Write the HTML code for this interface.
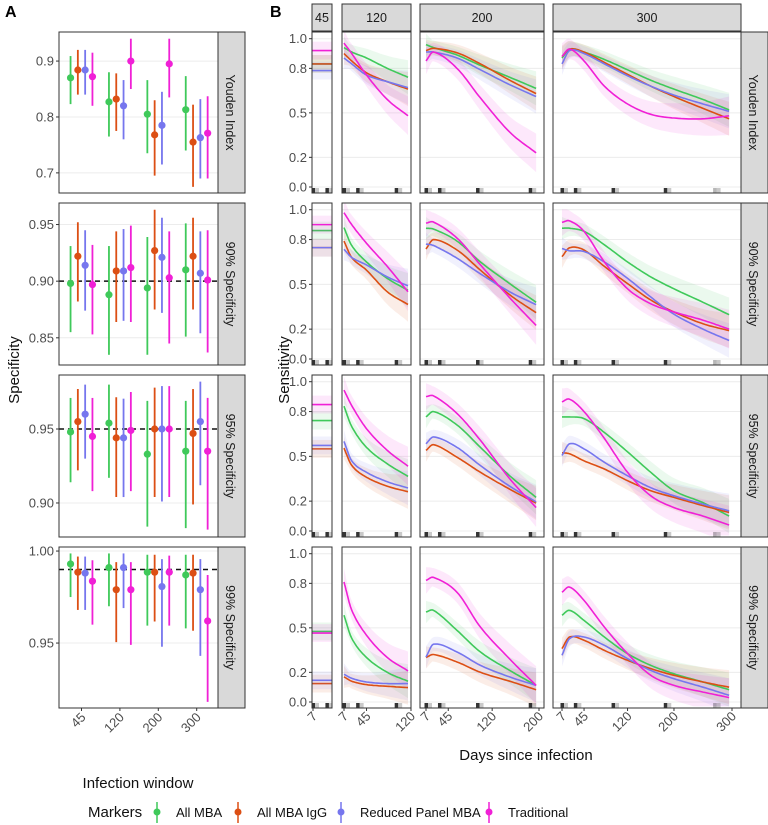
<!DOCTYPE html>
<html><head><meta charset="utf-8"><style>
body{margin:0;background:#fff}
svg{display:block;font-family:"Liberation Sans",Arial,sans-serif}
</style></head><body>
<svg id="fig" width="768" height="825" viewBox="0 0 768 825">
<text x="5" y="17" font-size="16" font-weight="bold">A</text>
<text x="270" y="17" font-size="16" font-weight="bold">B</text>
<text transform="translate(19,370) rotate(-90)" text-anchor="middle" font-size="15" fill="#111">Specificity</text>
<text transform="translate(289,370) rotate(-90)" text-anchor="middle" font-size="15" fill="#111">Sensitivity</text>
<text x="138" y="788" text-anchor="middle" font-size="15" fill="#111">Infection window</text>
<text x="526" y="760" text-anchor="middle" font-size="15" fill="#111">Days since infection</text>
<g id="legend"><text x="88" y="817" font-size="15" fill="#111">Markers</text></g>
</svg>
<script>
const NS='http://www.w3.org/2000/svg';
const svg=document.getElementById('fig');
function el(tag,attrs,parent){const e=document.createElementNS(NS,tag);for(const k in attrs)e.setAttribute(k,attrs[k]);(parent||svg).appendChild(e);return e;}

const seriesNames=['All MBA','All MBA IgG','Reduced Panel MBA','Traditional'];
const seriesColors=['#3fc95a','#dc4f14','#7676ee','#f020d6'];
const windows=['45','120','200','300'];
const rowNames=['Youden Index','90% Specificity','95% Specificity','99% Specificity'];

// Panel A data: [window][series]
const youdenEst=[[0.870,0.884,0.884,0.872],[0.827,0.832,0.820,0.900],[0.805,0.768,0.785,0.895],[0.813,0.755,0.763,0.771]];
const youdenLo=[[0.823,0.840,0.840,0.820],[0.765,0.775,0.760,0.850],[0.735,0.695,0.715,0.835],[0.740,0.675,0.690,0.690]];
const youdenHi=[[0.909,0.920,0.920,0.915],[0.880,0.878,0.866,0.940],[0.866,0.830,0.845,0.940],[0.873,0.822,0.832,0.837]];
const spec90Est=[[0.898,0.922,0.914,0.897],[0.888,0.909,0.909,0.912],[0.894,0.927,0.921,0.903],[0.910,0.922,0.907,0.901]];
const spec90Lo=[[0.855,0.882,0.874,0.853],[0.835,0.864,0.865,0.864],[0.835,0.875,0.872,0.845],[0.851,0.875,0.854,0.837]];
const spec90Hi=[[0.931,0.952,0.945,0.932],[0.931,0.944,0.946,0.949],[0.939,0.963,0.956,0.944],[0.951,0.956,0.944,0.945]];
const spec95Est=[[0.948,0.955,0.960,0.945],[0.954,0.944,0.944,0.949],[0.933,0.950,0.950,0.950],[0.935,0.947,0.955,0.935]];
const spec95Lo=[[0.914,0.922,0.930,0.908],[0.917,0.904,0.904,0.908],[0.884,0.904,0.901,0.904],[0.883,0.899,0.912,0.882]];
const spec95Hi=[[0.971,0.977,0.980,0.971],[0.980,0.9715,0.9705,0.975],[0.969,0.978,0.979,0.979],[0.969,0.977,0.982,0.971]];
const spec99Est=[[0.993,0.9885,0.988,0.9836],[0.991,0.979,0.991,0.979],[0.9885,0.9885,0.9807,0.9885],[0.987,0.988,0.979,0.962]];
const spec99Lo=[[0.975,0.968,0.968,0.960],[0.970,0.9505,0.969,0.949],[0.9595,0.9617,0.948,0.9595],[0.958,0.9567,0.943,0.918]];
const spec99Hi=[[0.9987,0.997,0.997,0.995],[0.9987,0.994,0.9987,0.994],[0.998,0.998,0.9956,0.9975],[0.998,0.998,0.9956,0.987]];
const aTickVals=[[0.7,0.8,0.9],[0.85,0.90,0.95],[0.90,0.95],[0.95,1.00]];
const aTickLabels=[['0.7','0.8','0.9'],['0.85','0.90','0.95'],['0.90','0.95'],['0.95','1.00']];
const aRefLines=[null,0.90,0.95,0.99];

// Panel B data
const days120=[7,20,45,80,115];
const days200=[7,20,60,100,150,195];
const days300=[7,20,45,80,120,160,200,250,295];
const flat45=[[0.83,0.83,0.785,0.92],[0.86,0.746,0.746,0.90],[0.74,0.55,0.573,0.847],[0.476,0.124,0.146,0.465]];
const curves120=[
 [[0.94,0.91,0.87,0.80,0.74],[0.90,0.85,0.77,0.71,0.66],[0.87,0.83,0.755,0.71,0.67],[0.97,0.90,0.755,0.59,0.48]],
 [[0.88,0.76,0.65,0.54,0.46],[0.79,0.68,0.595,0.45,0.365],[0.735,0.68,0.63,0.55,0.49],[0.98,0.90,0.775,0.62,0.45]],
 [[0.836,0.70,0.56,0.45,0.366],[0.555,0.44,0.36,0.30,0.263],[0.60,0.47,0.393,0.33,0.288],[0.944,0.84,0.685,0.54,0.434]],
 [[0.585,0.43,0.30,0.20,0.14],[0.17,0.14,0.117,0.106,0.097],[0.187,0.16,0.135,0.124,0.124],[0.81,0.62,0.45,0.30,0.21]]];
const curves200=[
 [[0.96,0.94,0.89,0.82,0.74,0.665],[0.92,0.935,0.905,0.83,0.72,0.63],[0.91,0.91,0.87,0.79,0.69,0.61],[0.85,0.91,0.80,0.60,0.37,0.23]],
 [[0.876,0.87,0.79,0.65,0.505,0.38],[0.737,0.80,0.73,0.595,0.43,0.31],[0.77,0.76,0.675,0.57,0.45,0.364],[0.91,0.917,0.81,0.63,0.41,0.225]],
 [[0.764,0.80,0.71,0.56,0.37,0.225],[0.54,0.578,0.494,0.393,0.28,0.187],[0.584,0.63,0.56,0.438,0.30,0.195],[0.90,0.905,0.787,0.607,0.35,0.157]],
 [[0.607,0.618,0.483,0.337,0.213,0.112],[0.30,0.32,0.27,0.20,0.14,0.083],[0.303,0.39,0.337,0.247,0.169,0.112],[0.82,0.84,0.74,0.505,0.29,0.112]]];
const curves300=[
 [[0.87,0.93,0.91,0.86,0.79,0.72,0.66,0.59,0.52],[0.88,0.93,0.91,0.84,0.76,0.68,0.61,0.53,0.46],[0.83,0.92,0.90,0.83,0.75,0.68,0.62,0.56,0.51],[0.88,0.93,0.85,0.68,0.56,0.49,0.465,0.46,0.48]],
 [[0.876,0.876,0.855,0.765,0.65,0.55,0.47,0.38,0.297],[0.685,0.745,0.73,0.62,0.505,0.395,0.315,0.236,0.19],[0.74,0.725,0.72,0.65,0.54,0.415,0.30,0.20,0.124],[0.915,0.925,0.855,0.65,0.47,0.37,0.315,0.26,0.20]],
 [[0.764,0.764,0.753,0.66,0.53,0.393,0.27,0.19,0.10],[0.524,0.517,0.47,0.415,0.337,0.27,0.225,0.17,0.124],[0.506,0.584,0.55,0.46,0.37,0.29,0.236,0.18,0.135],[0.865,0.883,0.80,0.62,0.393,0.236,0.157,0.10,0.04]],
 [[0.585,0.618,0.55,0.438,0.326,0.247,0.19,0.135,0.083],[0.36,0.438,0.416,0.348,0.281,0.225,0.18,0.135,0.10],[0.315,0.427,0.438,0.382,0.292,0.213,0.157,0.10,0.045],[0.74,0.775,0.685,0.505,0.326,0.18,0.112,0.067,0.03]]];
const rugDays=[7,30,95,185,270];
const bTickVals=[0,0.2,0.5,0.8,1.0];
const bTickLabels=['0.0','0.2','0.5','0.8','1.0'];

const rowsY=[[32,193],[203,365],[375,537],[547,708]];
const aDomains=[[0.664,0.952],[0.826,0.969],[0.877,0.9865],[0.9147,1.0022]];
const aEst=[youdenEst,spec90Est,spec95Est,spec99Est];
const aLo=[youdenLo,spec90Lo,spec95Lo,spec99Lo];
const aHi=[youdenHi,spec90Hi,spec95Hi,spec99Hi];

// ---------- Panel A ----------
const AX0=59,AX1=218;
function aX(w,s){return 81.5+w*38.4+(s-1.5)*7.3;}
for(let r=0;r<4;r++){
 const [t,b]=rowsY[r],[d0,d1]=aDomains[r];
 const y=v=>b-(v-d0)/(d1-d0)*(b-t);
 const g=el('g',{});
 
 
 el('rect',{x:AX0,y:t,width:AX1-AX0,height:b-t,fill:'#fff'},g);
 aTickVals[r].forEach((v,i)=>{
  el('line',{x1:AX0,x2:AX1,y1:y(v),y2:y(v),stroke:'#ececec','stroke-width':1},g);
  el('line',{x1:AX0-3,x2:AX0,y1:y(v),y2:y(v),stroke:'#333'},g);
  const tx=el('text',{x:AX0-5,y:y(v)+4.5,'text-anchor':'end','font-size':13,fill:'#4d4d4d'},g);
  tx.textContent=aTickLabels[r][i];
  
  
 });
 if(aRefLines[r]!==null){
  const ln=el('line',{x1:AX0,x2:AX1,y1:y(aRefLines[r]),y2:y(aRefLines[r]),stroke:'#111','stroke-width':1.5,'stroke-dasharray':'5,4'},g);
  
  
 }
 for(let w=0;w<4;w++)for(let s=0;s<4;s++){
  const x=aX(w,s);
  const ln=el('line',{x1:x,x2:x,y1:y(aLo[r][w][s]),y2:y(aHi[r][w][s]),stroke:seriesColors[s],'stroke-width':1.8},g);
  
  
  const c=el('circle',{cx:x,cy:y(aEst[r][w][s]),r:3.6,fill:seriesColors[s]},g);
  
  
 }
 el('rect',{x:AX0,y:t,width:AX1-AX0,height:b-t,fill:'none',stroke:'#333','stroke-width':1},g);
 const st=el('rect',{x:AX1,y:t,width:27,height:b-t,fill:'#d9d9d9',stroke:'#333','stroke-width':1},g);
 
 
 const stx=el('text',{transform:`translate(${AX1+8},${(t+b)/2}) rotate(90)`,'text-anchor':'middle','font-size':12.5,fill:'#1a1a1a'},g);
 stx.textContent=rowNames[r];
 
 
}
windows.forEach((w,i)=>{
 const x=81.5+i*38.4;
 el('line',{x1:x,x2:x,y1:708,y2:711,stroke:'#333'});
 const tx=el('text',{transform:`translate(${x+5},${718}) rotate(-45)`,'text-anchor':'end','font-size':13,fill:'#4d4d4d'});
 tx.textContent=w;
 
 
});

// ---------- Panel B ----------
const cols=[
 {name:'45',x0:312,x1:332,d0:7,p0:313,p1:336,dmax:45},
 {name:'120',x0:342,x1:411,d0:7,p0:344,p1:411,dmax:120,days:days120,data:curves120},
 {name:'200',x0:420,x1:544,d0:7,p0:426,p1:539,dmax:200,days:days200,data:curves200},
 {name:'300',x0:553,x1:741,d0:7,p0:562,p1:732,dmax:300,days:days300,data:curves300}];
function spline(xs,ys,n){
 const pts=[];
 for(let i=0;i<xs.length-1;i++){
  const x0=xs[Math.max(i-1,0)],x1=xs[i],x2=xs[i+1],x3=xs[Math.min(i+2,xs.length-1)];
  const y0=ys[Math.max(i-1,0)],y1=ys[i],y2=ys[i+1],y3=ys[Math.min(i+2,ys.length-1)];
  const m1=(y2-y0)/((x2-x0)||1),m2=(y3-y1)/((x3-x1)||1);
  const h=x2-x1;
  for(let k=0;k<n;k++){
   const t=k/n,t2=t*t,t3=t2*t;
   const yv=(2*t3-3*t2+1)*y1+(t3-2*t2+t)*h*m1+(-2*t3+3*t2)*y2+(t3-t2)*h*m2;
   pts.push([x1+t*h,yv]);
  }
 }
 pts.push([xs[xs.length-1],ys[ys.length-1]]);
 return pts;
}
cols.forEach(c=>{
 const st=el('rect',{x:c.x0,y:4,width:c.x1-c.x0,height:27,fill:'#d9d9d9',stroke:'#333','stroke-width':1});
 
 
 const tx=el('text',{x:(c.x0+c.x1)/2,y:22,'text-anchor':'middle','font-size':12.5,fill:'#1a1a1a'});
 tx.textContent=c.name;
 
 
});
for(let r=0;r<4;r++){
 const [t,b]=rowsY[r];
 const y=v=>(b-6)-v*(b-t-12.7);
 const rs=el('rect',{x:741,y:t,width:27,height:b-t,fill:'#d9d9d9',stroke:'#333','stroke-width':1});
 
 
 const rtx=el('text',{transform:`translate(${749},${(t+b)/2}) rotate(90)`,'text-anchor':'middle','font-size':12.5,fill:'#1a1a1a'});
 rtx.textContent=rowNames[r];
 
 
 bTickVals.forEach((v,i)=>{
  el('line',{x1:309,x2:312,y1:y(v),y2:y(v),stroke:'#333'});
  const tx=el('text',{x:307,y:y(v)+4.5,'text-anchor':'end','font-size':13,fill:'#4d4d4d'});
  tx.textContent=bTickLabels[i];
  
  
 });
 cols.forEach((c,ci)=>{
  const xs=d=>c.p0+(d-c.d0)/(c.dmax-c.d0)*(c.p1-c.p0);
  const g=el('g',{});
  
  
  const cid='clip'+r+'_'+ci;
  const cp=el('clipPath',{id:cid},g);el('rect',{x:c.x0,y:t,width:c.x1-c.x0,height:b-t},cp);
  el('rect',{x:c.x0,y:t,width:c.x1-c.x0,height:b-t,fill:'#fff'},g);
  const inner=el('g',{'clip-path':`url(#${cid})`},g);
  bTickVals.forEach(v=>el('line',{x1:c.x0,x2:c.x1,y1:y(v),y2:y(v),stroke:'#ececec'},inner));
  if(ci===0){
   for(let s=0;s<4;s++){
    const v=flat45[r][s];
    el('rect',{x:c.x0,y:y(v+0.06),width:c.x1-c.x0,height:y(v-0.06)-y(v+0.06),fill:seriesColors[s],opacity:0.1},inner);
    const ln=el('line',{x1:c.x0,x2:c.x1,y1:y(v),y2:y(v),stroke:seriesColors[s],'stroke-width':1.6},inner);
    
    
   }
  } else {
   for(let s=0;s<4;s++){
    const pts=spline(c.days,c.data[r][s],12);
    const n=pts.length;
    const up=[],dn=[];
    pts.forEach((p,i)=>{const f=i/(n-1);const hw=(s===3?0.06:0.045)+0.07*f*f+0.03*Math.max(0,1-f*6);up.push(xs(p[0]).toFixed(1)+','+y(Math.min(p[1]+hw,1.05)).toFixed(1));dn.unshift(xs(p[0]).toFixed(1)+','+y(Math.max(p[1]-hw,-0.03)).toFixed(1));});
    el('polygon',{points:up.concat(dn).join(' '),fill:seriesColors[s],opacity:0.1},inner);
   }
   for(let s=0;s<4;s++){
    const pts=spline(c.days,c.data[r][s],12);
    const d='M'+pts.map(p=>xs(p[0]).toFixed(1)+','+y(p[1]).toFixed(1)).join('L');
    const pth=el('path',{d:d,fill:'none',stroke:seriesColors[s],'stroke-width':1.6},inner);
    
    
   }
  }
  rugDays.forEach(dd=>{
   if(dd>c.dmax)return;
   const rx=xs(dd);
   if(rx>c.x1-1)return;
   el('rect',{x:rx-1.5,y:b-5,width:3.5,height:5,fill:'#111',opacity:dd>250?0.3:0.85},inner);
   el('rect',{x:rx+2,y:b-5,width:4,height:5,fill:'#777',opacity:0.4},inner);
  });
  el('rect',{x:c.x0,y:t,width:c.x1-c.x0,height:b-t,fill:'none',stroke:'#333','stroke-width':1},g);
 });
}
const bXTicks=[[7],[7,45,120],[7,45,120,200],[7,45,120,200,300]];
cols.forEach((c,ci)=>{
 bXTicks[ci].forEach(d=>{
  const x=c.p0+(d-c.d0)/(c.dmax-c.d0)*(c.p1-c.p0);
  el('line',{x1:x,x2:x,y1:708,y2:711,stroke:'#333'});
  const tx=el('text',{transform:`translate(${x+5},${717}) rotate(-45)`,'text-anchor':'end','font-size':13,fill:'#4d4d4d'});
  tx.textContent=String(d);
  
  
 });
});

// Legend
const lg=document.getElementById('legend');
const legX=[157,238,341,489];
seriesNames.forEach((n,i)=>{
 const g=el('g',{},lg);
 
 
 el('line',{x1:legX[i],x2:legX[i],y1:802,y2:823,stroke:seriesColors[i],'stroke-width':1.5},g);
 el('circle',{cx:legX[i],cy:812,r:3.5,fill:seriesColors[i]},g);
 const tx=el('text',{x:legX[i]+19,y:817,'font-size':13,fill:'#111'},g);
 tx.textContent=n;
});
</script>
</body></html>
